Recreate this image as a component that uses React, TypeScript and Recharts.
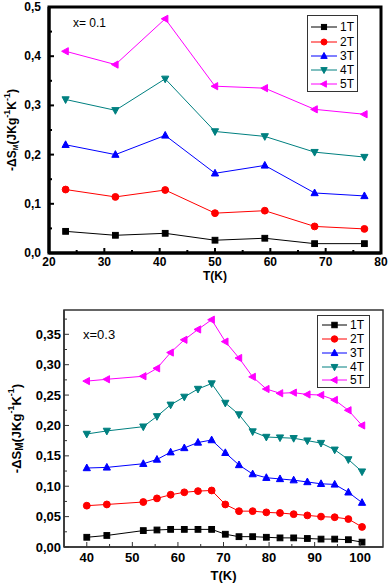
import React from 'react';
import { LineChart, Line, XAxis, YAxis, ReferenceArea, Legend } from 'recharts';

// ---------- data: x = 0.1 ----------
const T1 = [23, 32, 41, 50, 59, 68, 77];
const A1T = [0.044, 0.036, 0.040, 0.026, 0.030, 0.019, 0.019];
const A2T = [0.129, 0.114, 0.128, 0.081, 0.086, 0.054, 0.049];
const A3T = [0.220, 0.200, 0.239, 0.162, 0.178, 0.122, 0.116];
const A4T = [0.312, 0.290, 0.354, 0.247, 0.237, 0.205, 0.195];
const A5T = [0.410, 0.383, 0.476, 0.339, 0.335, 0.292, 0.282];

// ---------- data: x = 0.3 ----------
const T2 = [40, 44.4, 52.4, 55.4, 58.4, 61.4, 64.4, 67.4, 70.4, 73.4, 76.4, 79.4, 82.4, 85.4, 88.4, 91.4, 94.4, 97.4, 100.4];
const B1T = [0.016, 0.019, 0.027, 0.028, 0.029, 0.029, 0.029, 0.029, 0.021, 0.017, 0.017, 0.016, 0.015, 0.015, 0.014, 0.013, 0.013, 0.012, 0.008];
const B2T = [0.068, 0.070, 0.074, 0.080, 0.086, 0.090, 0.092, 0.093, 0.070, 0.059, 0.059, 0.057, 0.056, 0.054, 0.052, 0.050, 0.049, 0.046, 0.033];
const B3T = [0.130, 0.131, 0.137, 0.144, 0.156, 0.163, 0.172, 0.176, 0.155, 0.135, 0.120, 0.114, 0.112, 0.110, 0.107, 0.104, 0.103, 0.090, 0.073];
const B4T = [0.186, 0.191, 0.198, 0.215, 0.234, 0.247, 0.260, 0.269, 0.237, 0.218, 0.190, 0.181, 0.180, 0.179, 0.175, 0.171, 0.160, 0.144, 0.124];
const B5T = [0.273, 0.276, 0.281, 0.294, 0.320, 0.341, 0.358, 0.374, 0.338, 0.311, 0.280, 0.260, 0.253, 0.254, 0.251, 0.250, 0.242, 0.225, 0.200];

const SERIES_NAMES = ['1T', '2T', '3T', '4T', '5T'];
const SERIES_KEYS = ['s1', 's2', 's3', 's4', 's5'];
const COLORS = ['#000000', '#ff0000', '#0000ff', '#008080', '#ff00ff'];
const SHAPES = ['square', 'circle', 'up', 'down', 'left'];

const TOP_X_DOMAIN = [20, 80];
const TOP_Y_DOMAIN = [0, 0.5];
const TOP_X_TICKS = [20, 25, 30, 35, 40, 45, 50, 55, 60, 65, 70, 75, 80];
const TOP_Y_TICKS = [0, 0.05, 0.1, 0.15, 0.2, 0.25, 0.3, 0.35, 0.4, 0.45, 0.5];

const BOT_X_DOMAIN = [35, 105];
const BOT_Y_DOMAIN = [0, 0.39];
const BOT_X_TICKS = [40, 45, 50, 55, 60, 65, 70, 75, 80, 85, 90, 95, 100];
const BOT_Y_TICKS = [0, 0.025, 0.05, 0.075, 0.1, 0.125, 0.15, 0.175, 0.2, 0.225, 0.25, 0.275, 0.3, 0.325, 0.35, 0.375];

const topData = T1.map((t, i) => ({ T: t, s1: A1T[i], s2: A2T[i], s3: A3T[i], s4: A4T[i], s5: A5T[i] }));
const botData = T2.map((t, i) => ({ T: t, s1: B1T[i], s2: B2T[i], s3: B3T[i], s4: B4T[i], s5: B5T[i] }));

const FONT = "'Liberation Sans', Arial, Helvetica, sans-serif";

function Marker({ shape, cx, cy, color, s }: any) {
  switch (shape) {
    case 'square':
      return <rect x={cx - s * 0.8} y={cy - s * 0.8} width={s * 1.6} height={s * 1.6} fill={color} stroke={color} />;
    case 'circle':
      return <circle cx={cx} cy={cy} r={s * 0.95} fill={color} stroke={color} />;
    case 'up':
      return <polygon points={`${cx},${cy - s * 1.1} ${cx - s},${cy + s * 0.75} ${cx + s},${cy + s * 0.75}`} fill={color} stroke={color} />;
    case 'down':
      return <polygon points={`${cx - s},${cy - s * 0.75} ${cx + s},${cy - s * 0.75} ${cx},${cy + s * 1.1}`} fill={color} stroke={color} />;
    default:
      return <polygon points={`${cx - s * 1.1},${cy} ${cx + s * 0.75},${cy - s} ${cx + s * 0.75},${cy + s}`} fill={color} stroke={color} />;
  }
}

const makeDot = (shape: string, color: string, s: number) => (props: any) => {
  const { cx, cy, index } = props;
  if (cx == null || cy == null) return <g key={`d${index}`} />;
  return (
    <g key={`d${index}`}>
      <Marker shape={shape} cx={cx} cy={cy} color={color} s={s} />
    </g>
  );
};

const fmt = (v: number, d: number) => v.toFixed(d).replace('.', ',');

// top chart ticks (inward)
const TopXTick = ({ x, y, payload }: any) => {
  const v = payload.value;
  const major = v % 10 === 0;
  return (
    <g>
      <line x1={x} x2={x} y1={y} y2={y - (major ? 5 : 3)} stroke="#000" strokeWidth={2} />
      {major && (
        <text x={x} y={y + 13} textAnchor="middle" fontFamily={FONT} fontWeight="bold" fontSize={12} fill="#000">
          {v}
        </text>
      )}
    </g>
  );
};
const TopYTick = ({ x, y, payload }: any) => {
  const v = payload.value;
  const major = Math.round(v * 100) % 10 === 0;
  return (
    <g>
      <line x1={x} x2={x + (major ? 5 : 3)} y1={y} y2={y} stroke="#000" strokeWidth={2} />
      {major && (
        <text x={x - 8} y={y + 4} textAnchor="end" fontFamily={FONT} fontWeight="bold" fontSize={12} fill="#000">
          {fmt(v, 1)}
        </text>
      )}
    </g>
  );
};

// bottom chart ticks (inward)
const BotXTick = ({ x, y, payload }: any) => {
  const v = payload.value;
  const major = v % 10 === 0;
  return (
    <g>
      <line x1={x} x2={x} y1={y} y2={y - (major ? 5 : 3)} stroke="#333" strokeWidth={1} />
      {major && (
        <text x={x} y={y + 15} textAnchor="middle" fontFamily={FONT} fontWeight="bold" fontSize={13} fill="#000">
          {v}
        </text>
      )}
    </g>
  );
};
const BotYTick = ({ x, y, payload }: any) => {
  const v = payload.value;
  const major = Math.round(v * 1000) % 50 === 0;
  return (
    <g>
      <line x1={x} x2={x + (major ? 5 : 3)} y1={y} y2={y} stroke="#333" strokeWidth={1} />
      {major && (
        <text x={x - 3} y={y + 4.5} textAnchor="end" fontFamily={FONT} fontWeight="bold" fontSize={13} fill="#000">
          {fmt(v, 2)}
        </text>
      )}
    </g>
  );
};

const YTitle = ({ viewBox, offsetX, fs, subFs, supFs }: any) => {
  const vb = viewBox || { x: 0, y: 0, width: 0, height: 0 };
  const cx = vb.x + offsetX;
  const cy = vb.y + vb.height / 2;
  return (
    <text
      x={cx}
      y={cy}
      transform={`rotate(-90 ${cx} ${cy})`}
      textAnchor="middle"
      dominantBaseline="central"
      fontFamily={FONT}
      fontWeight="bold"
      fontSize={fs}
      fill="#000"
    >
      -ΔS
      <tspan dy={3} fontSize={subFs}>M</tspan>
      <tspan dy={-3}>(JKg</tspan>
      <tspan dy={-5} fontSize={supFs}>-1</tspan>
      <tspan dy={5}>K</tspan>
      <tspan dy={-5} fontSize={supFs}>-1</tspan>
      <tspan dy={5}>)</tspan>
    </text>
  );
};

const XTitle = ({ viewBox, dy, fs }: any) => {
  const vb = viewBox || { x: 0, y: 0, width: 0, height: 0 };
  return (
    <text x={vb.x + vb.width / 2} y={vb.y + dy} textAnchor="middle" fontFamily={FONT} fontWeight="bold" fontSize={fs} fill="#000">
      T(K)
    </text>
  );
};

const LegendBox = ({ w, h, rowY, lx1, lx2, tx, fs, s }: any) => (
  <svg width={w + 2} height={h + 2} style={{ display: 'block' }}>
    <rect x={0.5} y={0.5} width={w} height={h} fill="#fff" stroke="#333" strokeWidth={1} />
    {SERIES_NAMES.map((n, i) => (
      <g key={n}>
        <line x1={lx1} x2={lx2} y1={rowY[i]} y2={rowY[i]} stroke={COLORS[i]} strokeWidth={1} />
        <Marker shape={SHAPES[i]} cx={(lx1 + lx2) / 2} cy={rowY[i]} color={COLORS[i]} s={s} />
        <text x={tx} y={rowY[i] + 4.3} fontFamily={FONT} fontSize={fs} fill="#000">
          {n}
        </text>
      </g>
    ))}
  </svg>
);

export default function App() {
  return (
    <div style={{ position: 'absolute', left: 0, top: 0, width: 388, height: 585, background: '#fff', overflow: 'hidden' }}>
      {/* top chart */}
      <div style={{ position: 'absolute', left: 0, top: 0 }}>
        <LineChart width={388} height={290} data={topData} margin={{ top: 7, right: 7, left: 0, bottom: 0 }}>
          <XAxis
            dataKey="T"
            type="number"
            domain={TOP_X_DOMAIN}
            ticks={TOP_X_TICKS}
            interval={0}
            tickSize={0}
            tickMargin={0}
            tickLine={false}
            tick={<TopXTick />}
            height={37}
            axisLine={{ stroke: '#000', strokeWidth: 3 }}
            allowDataOverflow
            label={<XTitle dy={27} fs={12} />}
          />
          <YAxis
            type="number"
            domain={TOP_Y_DOMAIN}
            ticks={TOP_Y_TICKS}
            interval={0}
            tickSize={0}
            tickMargin={0}
            tickLine={false}
            tick={<TopYTick />}
            width={49}
            axisLine={{ stroke: '#000', strokeWidth: 3 }}
            allowDataOverflow
            label={<YTitle offsetX={12} fs={12} subFs={7} supFs={9} />}
          />
          <ReferenceArea
            x1={TOP_X_DOMAIN[0]}
            x2={TOP_X_DOMAIN[1]}
            y1={TOP_Y_DOMAIN[0]}
            y2={TOP_Y_DOMAIN[1]}
            fill="none"
            fillOpacity={0}
            stroke="#000"
            strokeWidth={3}
          />
          {SERIES_KEYS.map((k, i) => (
            <Line
              key={k}
              dataKey={k}
              name={SERIES_NAMES[i]}
              stroke={COLORS[i]}
              strokeWidth={1}
              dot={makeDot(SHAPES[i], COLORS[i], 3.6)}
              isAnimationActive={false}
            />
          ))}
          <Legend
            layout="vertical"
            align="center"
            verticalAlign="middle"
            wrapperStyle={{ left: 307, top: 15, width: 52, height: 78, bottom: 'auto', right: 'auto' }}
            content={() => <LegendBox w={50} h={76} rowY={[12, 27, 41, 55, 69]} lx1={4} lx2={30} tx={33} fs={12} s={3.2} />}
          />
        </LineChart>
        <div style={{ position: 'absolute', left: 73, top: 16, fontFamily: FONT, fontSize: 12, color: '#000', whiteSpace: 'pre' }}>
          x= 0.1
        </div>
      </div>

      {/* bottom chart */}
      <div style={{ position: 'absolute', left: 0, top: 290 }}>
        <LineChart width={388} height={295} data={botData} margin={{ top: 20, right: 5, left: 0, bottom: 0 }}>
          <XAxis
            dataKey="T"
            type="number"
            domain={BOT_X_DOMAIN}
            ticks={BOT_X_TICKS}
            interval={0}
            tickSize={0}
            tickMargin={0}
            tickLine={false}
            tick={<BotXTick />}
            height={38}
            axisLine={{ stroke: '#333', strokeWidth: 1.5 }}
            allowDataOverflow
            label={<XTitle dy={33} fs={13} />}
          />
          <YAxis
            type="number"
            domain={BOT_Y_DOMAIN}
            ticks={BOT_Y_TICKS}
            interval={0}
            tickSize={0}
            tickMargin={0}
            tickLine={false}
            tick={<BotYTick />}
            width={64}
            axisLine={{ stroke: '#333', strokeWidth: 1.5 }}
            allowDataOverflow
            label={<YTitle offsetX={16} fs={13} subFs={10} supFs={9} />}
          />
          <ReferenceArea
            x1={BOT_X_DOMAIN[0]}
            x2={BOT_X_DOMAIN[1]}
            y1={BOT_Y_DOMAIN[0]}
            y2={BOT_Y_DOMAIN[1]}
            fill="none"
            fillOpacity={0}
            stroke="#333"
            strokeWidth={1.5}
          />
          {SERIES_KEYS.map((k, i) => (
            <Line
              key={k}
              dataKey={k}
              name={SERIES_NAMES[i]}
              stroke={COLORS[i]}
              strokeWidth={1}
              dot={makeDot(SHAPES[i], COLORS[i], 3.6)}
              isAnimationActive={false}
            />
          ))}
          <Legend
            layout="vertical"
            align="center"
            verticalAlign="middle"
            wrapperStyle={{ left: 317, top: 25, width: 54, height: 74, bottom: 'auto', right: 'auto' }}
            content={() => <LegendBox w={52} h={72} rowY={[10, 24, 38, 52, 65]} lx1={5} lx2={30} tx={33} fs={12} s={3.4} />}
          />
        </LineChart>
        <div style={{ position: 'absolute', left: 83, top: 37, fontFamily: FONT, fontSize: 13, color: '#000', whiteSpace: 'pre' }}>
          x=0.3
        </div>
      </div>
    </div>
  );
}
